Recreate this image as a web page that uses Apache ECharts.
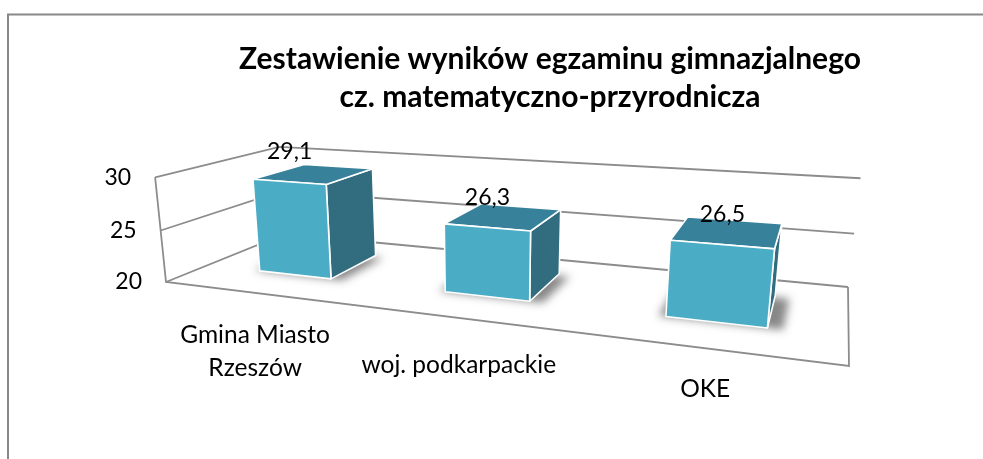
<!DOCTYPE html>
<html>
<head>
<meta charset="utf-8">
<style>html,body{margin:0;padding:0;background:#fff}#main{width:983px;height:459px}</style>
<script src="https://cdn.jsdelivr.net/npm/echarts@6/dist/echarts.min.js"></script>
</head>
<body>
<div id="main"></div>
<script>
var categories = ['Gmina Miasto\nRzeszów', 'woj. podkarpackie', 'OKE'];
var values = [29.1, 26.3, 26.5];
var tickValues = [20, 25, 30];
var titleText = 'Zestawienie wyników egzaminu gimnazjalnego\ncz. matematyczno-przyrodnicza';

// floor of the 3d box on the page: front-left, front-right, back-right, back-left
var floorQuad = [[166, 282], [849, 366], [848, 287], [285, 234]];
// vertical lines run to this point far below the chart, riseK sets how tall the box is
var verticalVP = [490, 3400], riseK = -0.0325;
var catLabelOffset = [[0, 59], [0, 47], [0, 41]];
var fontName = 'Lato, Carlito, Calibri, sans-serif';
var barHalfU = 0.067, barSpreadU = 0.9945, barShiftU = 0.0042, barW0 = 0.31, barW1 = 0.76;
var shadowShift = 1500; // shadow shape sits off the page, only its blur lands on the floor

function makeProjection(q) {
  var dx1 = q[1][0] - q[2][0], dx2 = q[3][0] - q[2][0], sx = q[0][0] - q[1][0] + q[2][0] - q[3][0];
  var dy1 = q[1][1] - q[2][1], dy2 = q[3][1] - q[2][1], sy = q[0][1] - q[1][1] + q[2][1] - q[3][1];
  var den = dx1 * dy2 - dx2 * dy1;
  var g = (sx * dy2 - dx2 * sy) / den, h = (dx1 * sy - sx * dy1) / den;
  var a = q[1][0] - q[0][0] + g * q[1][0], b = q[3][0] - q[0][0] + h * q[3][0];
  var d = q[1][1] - q[0][1] + g * q[1][1], e = q[3][1] - q[0][1] + h * q[3][1];
  // u along categories, v up the value axis, w into the depth
  return function (u, v, w) {
    var t = g * u + h * w + 1 + v * riseK;
    return [
      (a * u + b * w + q[0][0] + v * riseK * verticalVP[0]) / t,
      (d * u + e * w + q[0][1] + v * riseK * verticalVP[1]) / t
    ];
  };
}
var project = makeProjection(floorQuad);

function toUV(params, api, cat, val) {
  var cs = params.coordSys, pt = api.coord([cat, val]);
  return [(pt[0] - cs.x) / cs.width, (cs.y + cs.height - pt[1]) / cs.height];
}
function poly(points, fill, extra) {
  var s = { fill: fill };
  for (var k in extra) s[k] = extra[k];
  return { type: 'polygon', shape: { points: points }, style: s };
}
var lineStyle = { stroke: '#8c8c8c', lineWidth: 1.8, fill: null };

function renderWalls(params, api) {
  var uv = toUV(params, api, 0, api.value(0));
  var v = uv[1];
  var kids = [
    { type: 'polyline', shape: { points: [project(0, v, 0), project(0, v, 1), project(1, v, 1)] }, style: lineStyle }
  ];
  if (params.dataIndex === 0) {
    kids.push({ type: 'polyline', shape: { points: [project(0, 1, 0), project(0, 0, 0), project(1, 0, 0), project(1, 0, 1)] }, style: lineStyle });
  }
  var p = project(0, v, 0);
  kids.push({ type: 'text', style: { text: String(api.value(0)), x: p[0] - 24, y: p[1], align: 'right', verticalAlign: 'middle', font: '23px ' + fontName, fill: '#000' } });
  return { type: 'group', children: kids };
}

function renderBar(params, api) {
  var i = api.value(0);
  var uv = toUV(params, api, i, api.value(1));
  var c = (i + 0.5) / categories.length * barSpreadU + barShiftU, h = uv[1];
  var u0 = c - barHalfU, u1 = c + barHalfU;
  var fbl = project(u0, 0, barW0), fbr = project(u1, 0, barW0), bbr = project(u1, 0, barW1);
  var ftl = project(u0, h, barW0), ftr = project(u1, h, barW0), btr = project(u1, h, barW1), btl = project(u0, h, barW1);
  var edge = { stroke: '#fff', lineWidth: 1.6, lineJoin: 'round' };
  var mid = [(ftl[0] + ftr[0]) / 2, (ftl[1] + ftr[1]) / 2];
  var foot = [project(u0 - 0.01, 0, barW0), project(u1 + 0.02, 0, barW0), project(u1 + 0.02, 0, barW1 - 0.03), project(u0 - 0.01, 0, barW1 - 0.03)]
    .map(function (p) { return [p[0] - shadowShift, p[1]]; });
  return {
    type: 'group',
    children: [
      poly(foot, '#000', { shadowBlur: 8, shadowOffsetX: shadowShift, shadowColor: 'rgba(115,115,115,0.85)' }),
      poly([ftr, btr, bbr, fbr], '#326d7f', edge),
      poly([ftl, ftr, btr, btl], '#37819a', edge),
      poly([ftl, ftr, fbr, fbl], '#4bacc6', edge),
      { type: 'text', z2: 10, style: { text: String(api.value(1)).replace('.', ','), x: mid[0], y: mid[1] - 30, align: 'center', verticalAlign: 'middle', font: '23px ' + fontName, fill: '#000' } }
    ]
  };
}

function renderCatLabel(params, api) {
  var i = api.value(0);
  var p = project((i + 0.5) / categories.length, 0, 0);
  return { type: 'text', style: { text: categories[i], x: p[0] + catLabelOffset[i][0], y: p[1] + catLabelOffset[i][1], align: 'center', verticalAlign: 'middle', font: '24.5px ' + fontName, lineHeight: 33, fill: '#000' } };
}

var myChart = echarts.init(document.getElementById('main'));
var option = {
  animation: false,
  title: {
    text: titleText,
    left: 545,
    top: 35,
    textAlign: 'center',
    textStyle: { fontFamily: fontName, fontWeight: 'bold', fontSize: 30, lineHeight: 38, color: '#000' }
  },
  grid: { left: 0, right: 0, top: 0, bottom: 0 },
  xAxis: { type: 'category', data: categories, show: false },
  yAxis: { type: 'value', min: 20, max: 30, interval: 5, show: false },
  graphic: [{
    type: 'polyline',
    shape: { points: [[8, 459], [8, 14.5], [983, 14.5]] },
    style: { stroke: '#888', lineWidth: 2, fill: null }
  }],
  series: [
    { type: 'custom', renderItem: renderWalls, data: tickValues.map(function (t) { return [t]; }), encode: { y: 0 }, z: 1 },
    { type: 'custom', renderItem: renderBar, data: values.map(function (v, i) { return [i, v]; }), encode: { x: 0, y: 1 }, z: 2 },
    { type: 'custom', renderItem: renderCatLabel, data: categories.map(function (c, i) { return [i]; }), encode: { x: 0 }, z: 3 }
  ]
};
myChart.setOption(option);
</script>
</body>
</html>
